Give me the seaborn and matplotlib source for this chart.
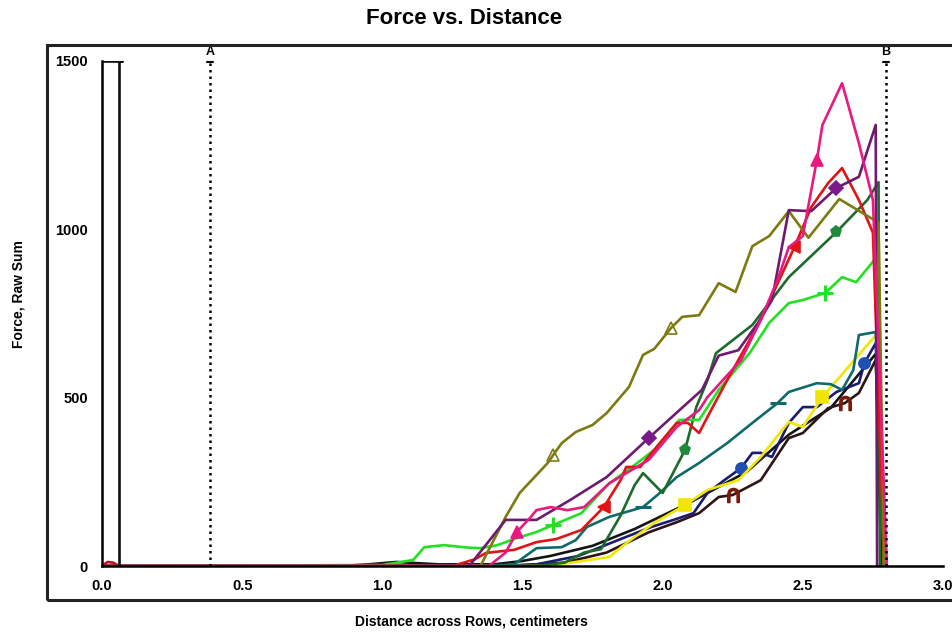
import matplotlib
matplotlib.use("Agg")
import matplotlib.pyplot as plt
from matplotlib.patches import Rectangle
import seaborn as sns
import pandas as pd

# ---------------- data ----------------
title = "Force vs. Distance"
xlabel = "Distance across Rows, centimeters"
ylabel = "Force, Raw Sum"
xticks = [0.0, 0.5, 1.0, 1.5, 2.0, 2.5, 3.0]
xtick_labels = ["0.0", "0.5", "1.0", "1.5", "2.0", "2.5", "3.0"]
yticks = [0, 500, 1000, 1500]
ytick_labels = ["0", "500", "1000", "1500"]
cursor_A = 0.385
cursor_B = 2.797

olive_x = [0, 1.35, 1.44, 1.49, 1.59, 1.61, 1.64, 1.69, 1.75, 1.80, 1.88, 1.93, 1.97, 2.03, 2.07, 2.13, 2.20, 2.26, 2.32, 2.38, 2.45, 2.52, 2.63, 2.77, 2.79]
olive_y = [0, 0, 146, 217, 306, 330, 365, 398, 419, 454, 532, 627, 645, 707, 740, 745, 840, 814, 950, 980, 1054, 975, 1090, 1020, 0]

pink_x = [0, 1.38, 1.44, 1.48, 1.53, 1.55, 1.60, 1.66, 1.72, 1.81, 1.95, 2.05, 2.13, 2.16, 2.28, 2.35, 2.41, 2.45, 2.50, 2.55, 2.57, 2.64, 2.70, 2.75, 2.80]
pink_y = [0, 0, 40, 101, 146, 166, 175, 166, 175, 246, 315, 413, 463, 502, 612, 731, 850, 947, 980, 1206, 1310, 1434, 1256, 1087, 0]

purple_x = [0, 1.31, 1.44, 1.55, 1.67, 1.80, 1.95, 2.06, 2.14, 2.20, 2.27, 2.34, 2.39, 2.45, 2.53, 2.62, 2.70, 2.76, 2.765]
purple_y = [0, 0, 137, 137, 196, 264, 380, 463, 523, 625, 641, 722, 790, 1057, 1054, 1123, 1156, 1310, 0]

red_x = [0, 1.25, 1.33, 1.37, 1.47, 1.55, 1.62, 1.71, 1.79, 1.85, 1.87, 1.92, 1.94, 2.05, 2.09, 2.13, 2.16, 2.23, 2.35, 2.47, 2.53, 2.59, 2.64, 2.70, 2.75, 2.79]
red_y = [0, 0, 20, 39, 48, 71, 80, 107, 175, 255, 294, 294, 315, 425, 425, 395, 443, 552, 731, 947, 1066, 1137, 1182, 1087, 990, 0]

dgreen_x = [0, 1.55, 1.65, 1.72, 1.78, 1.85, 1.90, 1.93, 2.00, 2.08, 2.12, 2.16, 2.19, 2.32, 2.45, 2.62, 2.73, 2.77, 2.775]
dgreen_y = [0, 0, 10, 40, 50, 150, 240, 276, 217, 345, 472, 552, 632, 716, 858, 992, 1087, 1140, 0]

green_x = [0, 1.0, 1.11, 1.15, 1.22, 1.30, 1.35, 1.41, 1.48, 1.55, 1.61, 1.71, 1.81, 1.90, 1.97, 2.06, 2.13, 2.20, 2.25, 2.31, 2.38, 2.45, 2.50, 2.58, 2.64, 2.69, 2.76, 2.79]
green_y = [0, 3, 18, 56, 62, 55, 53, 62, 83, 101, 122, 157, 246, 300, 345, 434, 434, 523, 573, 632, 722, 781, 790, 811, 858, 843, 914, 0]

teal_x = [0, 1.38, 1.47, 1.55, 1.64, 1.69, 1.73, 1.81, 1.93, 1.99, 2.05, 2.13, 2.23, 2.32, 2.41, 2.45, 2.55, 2.60, 2.64, 2.68, 2.70, 2.76, 2.79]
teal_y = [0, 0, 5, 53, 56, 77, 116, 146, 175, 217, 264, 306, 365, 425, 484, 517, 543, 540, 523, 582, 686, 695, 0]

yellow_x = [0, 1.60, 1.69, 1.81, 1.87, 1.97, 2.08, 2.16, 2.27, 2.35, 2.45, 2.50, 2.57, 2.77, 2.79]
yellow_y = [0, 0, 12, 27, 68, 128, 181, 226, 255, 324, 428, 413, 502, 695, 0]

navy_x = [0, 1.40, 1.55, 1.70, 1.85, 1.96, 2.05, 2.11, 2.16, 2.22, 2.28, 2.32, 2.35, 2.39, 2.45, 2.50, 2.55, 2.62, 2.70, 2.72, 2.76, 2.79]
navy_y = [0, 0, 5, 30, 80, 116, 140, 157, 217, 255, 291, 336, 336, 324, 425, 472, 472, 517, 543, 603, 662, 0]

brown_x = [0, 1.45, 1.65, 1.80, 1.95, 2.05, 2.13, 2.20, 2.25, 2.35, 2.45, 2.50, 2.59, 2.65, 2.70, 2.76, 2.79]
brown_y = [0, 0, 10, 40, 100, 130, 157, 205, 211, 255, 380, 395, 469, 484, 514, 612, 0]

black_x = [0, 0.85, 0.95, 1.05, 1.20, 1.40, 1.50, 1.60, 1.75, 1.90, 2.00, 2.10, 2.20, 2.30, 2.45, 2.60, 2.76, 2.78]
black_y = [0, 0, 5, 12, 5, 5, 15, 30, 60, 110, 150, 190, 235, 280, 390, 470, 630, 0]

bar_x = [0, 0.07, 0.06, 0.06]
bar_y = [1500, 1500, 1500, 0]

bump_x = [0, 0.02, 0.04, 0.06]
bump_y = [0, 12, 10, 0]

# (x, y, color, marker, marker indices, marker face)
series = [
    (black_x, black_y, "#151515", None, None, None),
    (brown_x, brown_y, "#2e1414", r"$\cap$", [8, 13], "#7a1a0a"),
    (navy_x, navy_y, "#1b1b70", "o", [10, 19], "#1f4fb0"),
    (yellow_x, yellow_y, "#f2e600", "s", [6, 12], "#f2e600"),
    (teal_x, teal_y, "#106a6a", "_", [8, 14], "#106a6a"),
    (dgreen_x, dgreen_y, "#1d6b2c", "p", [9, 15], "#1d8a3c"),
    (green_x, green_y, "#22e022", "+", [10, 23], "#22e022"),
    (red_x, red_y, "#e01414", "<", [8, 19], "#e01414"),
    (olive_x, olive_y, "#7d7a10", "^", [5, 13], "none"),
    (purple_x, purple_y, "#6e1a6e", "D", [6, 15], "#7a1a8a"),
    (pink_x, pink_y, "#e8197f", "^", [3, 19], "#e8197f"),
    (bump_x, bump_y, "#c01020", None, None, None),
    (bar_x, bar_y, "#111111", None, None, None),
]

marker_size = {"o": 8, "s": 9, "^": 9, "<": 9, "D": 7, "p": 8, "+": 11, "_": 11, r"$\cap$": 10}

# ---------------- figure ----------------
sns.set_style("white")
plt.rcParams["font.family"] = ["Liberation Sans", "DejaVu Sans"]
plt.rcParams["text.color"] = "black"

fig = plt.figure(figsize=(9.53, 6.32), dpi=100)
ax = fig.add_axes([0.107, 0.1044, 0.8825, 0.7991])

for xs, ys, col, mk, mev, mfc in series:
    df = pd.DataFrame({"x": xs, "y": ys})
    kw = dict(color=col, lw=1.9, sort=False, estimator=None, ax=ax, legend=False)
    if mk is not None:
        edge = col if mfc == "none" else (col if mk in ("+", "_") else mfc)
        kw.update(marker=mk, markevery=mev, markersize=marker_size[mk],
                  markerfacecolor=mfc, markeredgecolor=edge,
                  markeredgewidth=2.2 if mk in ("+", "_") else 1.2)
    sns.lineplot(data=df, x="x", y="y", **kw)

# cursor lines A and B
for pos, lab in [(cursor_A, "A"), (cursor_B, "B")]:
    ax.plot([pos, pos], [0, 1495], color="black", lw=1.8, ls=(0, (1, 1.6)), clip_on=False)
    ax.plot([pos - 0.012, pos + 0.012], [1497, 1497], color="black", lw=1.5, clip_on=False)
    ax.text(pos, 1508, lab, ha="center", va="bottom", fontsize=9, fontweight="bold",
            color="black", clip_on=False)

ax.set_xlim(0, 3.0)
ax.set_ylim(0, 1500)
ax.set_xticks(xticks)
ax.set_xticklabels(xtick_labels)
ax.set_yticks(yticks)
ax.set_yticklabels(ytick_labels)
ax.set_xlabel("")
ax.set_ylabel("")
for s in ["top", "right"]:
    ax.spines[s].set_visible(False)
for s in ["left", "bottom"]:
    ax.spines[s].set_color("black")
    ax.spines[s].set_linewidth(1.8)
ax.tick_params(axis="x", direction="inout", length=14, width=1.5, labelsize=10.5, pad=2,
               colors="black", labelcolor="black")
ax.tick_params(axis="y", direction="out", length=8, width=1.5, labelsize=10.5, pad=2,
               colors="black", labelcolor="black")
for lbl in ax.get_xticklabels() + ax.get_yticklabels():
    lbl.set_fontweight("bold")

# outer frame
fig.add_artist(Rectangle((0.0493, 0.0506), 1.0, 0.878, transform=fig.transFigure,
                         fill=False, lw=2.2, ec="#222222"))

fig.text(0.487, 0.970, title, ha="center", va="center", fontsize=16, fontweight="bold", color="black")
fig.text(0.495, 0.017, xlabel, ha="center", va="center", fontsize=10, fontweight="bold", color="black")
fig.text(0.019, 0.535, ylabel, ha="center", va="center", rotation=90, fontsize=10,
         fontweight="bold", color="black")

fig.savefig("out.png", dpi=100)
